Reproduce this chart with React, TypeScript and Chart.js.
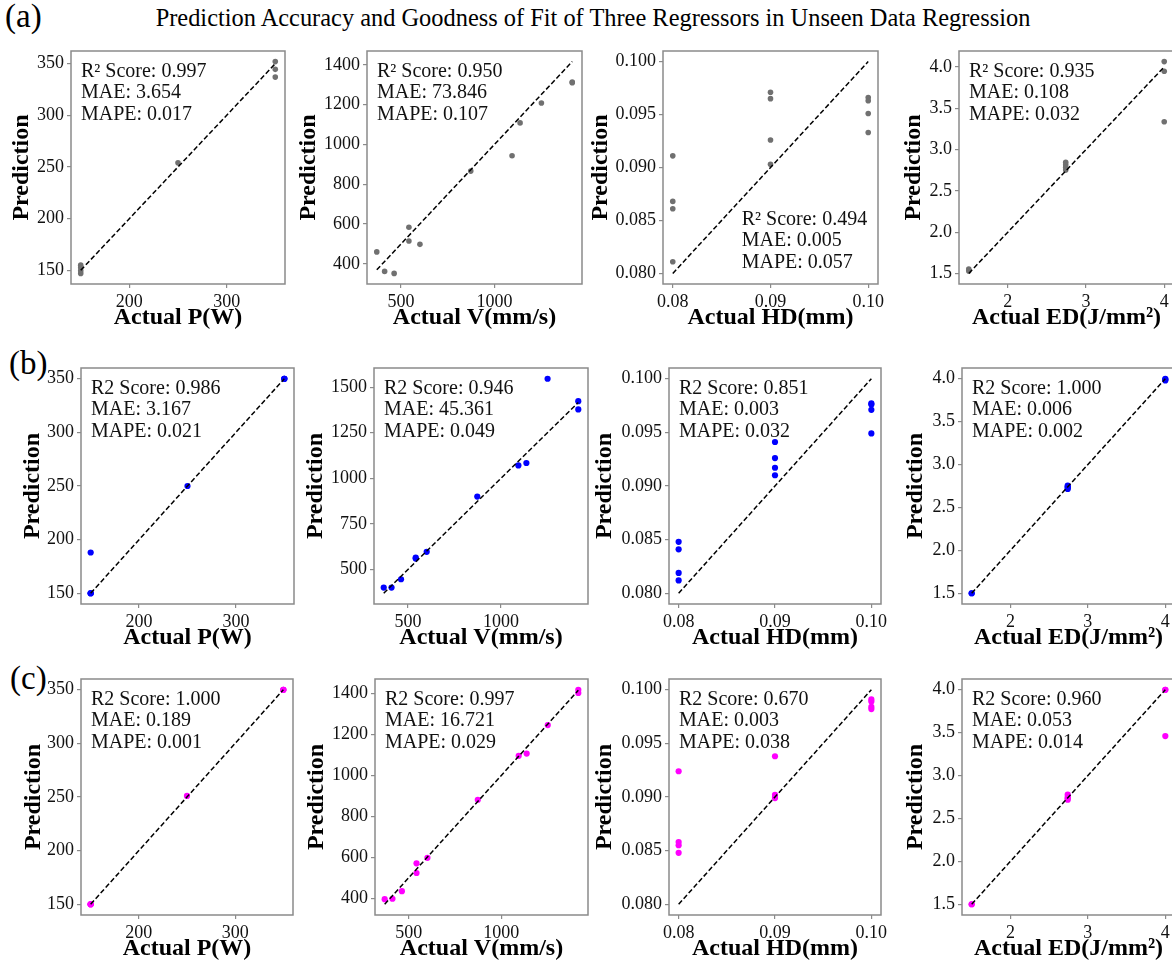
import React, { useEffect, useRef } from 'react';
import { Chart, registerables } from 'chart.js';
Chart.register(...registerables);

const FONT = "'Liberation Serif', 'Times New Roman', Times, serif";

// ---------- data ----------
const P_actual = [150, 150, 150, 150, 250, 350, 350, 350];
const P_predA = [155, 152.5, 149.5, 147, 254, 352, 344.5, 337];
const P_predB = [150, 188, 150, 150, 250, 350, 350, 350];
const P_predC = [150, 150, 150, 150, 251, 350, 350, 350];

const V_actual = [370, 412, 463, 542, 542, 601, 873, 1094, 1137, 1251, 1416, 1416];
const V_predA = [460, 362, 352, 584, 515, 498, 866, 943, 1108, 1208, 1313, 1310];
const V_predB = [401, 401, 447, 560, 565, 597, 900, 1071, 1084, 1546, 1423, 1378];
const V_predC = [395, 397, 434, 523, 570, 597, 881, 1096, 1107, 1246, 1419, 1403];

const HD_actual = [0.08, 0.08, 0.08, 0.08, 0.09, 0.09, 0.09, 0.09, 0.1, 0.1, 0.1, 0.1];
const HD_predA = [0.0911, 0.0868, 0.0861, 0.0811, 0.0971, 0.0965, 0.0926, 0.0903, 0.0966, 0.0963, 0.0951, 0.0933];
const HD_predB = [0.0848, 0.0841, 0.0819, 0.0812, 0.0941, 0.0926, 0.0917, 0.091, 0.0977, 0.0976, 0.0971, 0.0949];
const HD_predC = [0.0924, 0.0858, 0.0855, 0.0848, 0.0938, 0.0902, 0.09, 0.0899, 0.0991, 0.0989, 0.0984, 0.0982];

const ED_actual = [1.5, 1.5, 2.74, 2.74, 2.74, 2.74, 4, 4, 4];
const ED_predA = [1.552, 1.53, 2.845, 2.816, 2.784, 2.752, 4.064, 3.947, 3.336];
const ED_predB = [1.5, 1.5, 2.754, 2.74, 2.73, 2.715, 4.0, 3.98, 3.99];
const ED_predC = [1.5, 1.5, 2.777, 2.75, 2.735, 2.719, 4.0, 4.0, 3.46];

const P_xTicks = [200, 300];
const P_yTicks = [150, 200, 250, 300, 350];
const V_xTicks = [500, 1000];
const V_yTicksAC = [400, 600, 800, 1000, 1200, 1400];
const V_yTicksB = [500, 750, 1000, 1250, 1500];
const HD_xTicks = [0.08, 0.09, 0.1];
const HD_yTicks = [0.08, 0.085, 0.09, 0.095, 0.1];
const ED_xTicks = [2, 3, 4];
const ED_yTicks = [1.5, 2.0, 2.5, 3.0, 3.5, 4.0];

const xLabels = ['Actual P(W)', 'Actual V(mm/s)', 'Actual HD(mm)', 'Actual ED(J/mm²)'];

const annotA = [
  ['R² Score: 0.997', 'MAE: 3.654', 'MAPE: 0.017'],
  ['R² Score: 0.950', 'MAE: 73.846', 'MAPE: 0.107'],
  ['R² Score: 0.494', 'MAE: 0.005', 'MAPE: 0.057'],
  ['R² Score: 0.935', 'MAE: 0.108', 'MAPE: 0.032'],
];
const annotB = [
  ['R2 Score: 0.986', 'MAE: 3.167', 'MAPE: 0.021'],
  ['R2 Score: 0.946', 'MAE: 45.361', 'MAPE: 0.049'],
  ['R2 Score: 0.851', 'MAE: 0.003', 'MAPE: 0.032'],
  ['R2 Score: 1.000', 'MAE: 0.006', 'MAPE: 0.002'],
];
const annotC = [
  ['R2 Score: 1.000', 'MAE: 0.189', 'MAPE: 0.001'],
  ['R2 Score: 0.997', 'MAE: 16.721', 'MAPE: 0.029'],
  ['R2 Score: 0.670', 'MAE: 0.003', 'MAPE: 0.038'],
  ['R2 Score: 0.960', 'MAE: 0.053', 'MAPE: 0.014'],
];

// ---------- layout ----------
const ROW_TB = [[51, 284], [368, 604], [679, 915]];
const COL_LR = [
  [[71, 285], [367, 582], [663, 878], [959, 1174]],
  [[81, 294], [374, 588], [669, 881], [962, 1175]],
  [[81, 293], [375, 588], [669, 881], [962, 1175]],
];
const Y_TITLE_DIST = [
  [50, 59, 63, 46],
  [49, 58.6, 64.7, 46.6],
  [47.7, 58.3, 64.7, 46.6],
];
const PAD_T = 20;
const PAD_R = 26;
const H_X = 48;
const TITLE_HALF = 14.4;

type PanelSpec = {
  key: string;
  actual: number[];
  pred: number[];
  color: string;
  radius: number;
  xTicks: number[];
  yTicks: number[];
  xDec: number;
  yDec: number;
  xLabel: string;
  annot: string[];
  annotPos: [number, number] | null;
  L: number; T: number; R: number; B: number;
  yTitleDist: number;
};

const rowsPred = [
  [P_predA, V_predA, HD_predA, ED_predA],
  [P_predB, V_predB, HD_predB, ED_predB],
  [P_predC, V_predC, HD_predC, ED_predC],
];
const rowColors = ['#707070', '#0000ff', '#ff00ff'];
const rowAnnots = [annotA, annotB, annotC];
const colActual = [P_actual, V_actual, HD_actual, ED_actual];
const colXTicks = [P_xTicks, V_xTicks, HD_xTicks, ED_xTicks];
const colXDec = [0, 0, 2, 0];
const colYDec = [0, 0, 3, 1];

const panels: PanelSpec[] = [];
for (let r = 0; r < 3; r++) {
  for (let c = 0; c < 4; c++) {
    const yTicks = c === 0 ? P_yTicks : c === 1 ? (r === 1 ? V_yTicksB : V_yTicksAC) : c === 2 ? HD_yTicks : ED_yTicks;
    panels.push({
      key: `${r}-${c}`,
      actual: colActual[c],
      pred: rowsPred[r][c],
      color: rowColors[r],
      radius: r === 0 ? 2.8 : 3.1,
      xTicks: colXTicks[c],
      yTicks,
      xDec: colXDec[c],
      yDec: colYDec[c],
      xLabel: xLabels[c],
      annot: rowAnnots[r][c],
      annotPos: r === 0 && c === 2 ? [78.7, 174] : null,
      L: COL_LR[r][c][0], R: COL_LR[r][c][1],
      T: ROW_TB[r][0], B: ROW_TB[r][1],
      yTitleDist: Y_TITLE_DIST[r][c],
    });
  }
}

function padRange(vals: number[]): [number, number] {
  const lo = Math.min(...vals);
  const hi = Math.max(...vals);
  const m = (hi - lo) * 0.05;
  return [lo - m, hi + m];
}

function PanelChart({ p }: { p: PanelSpec }) {
  const ref = useRef<HTMLCanvasElement>(null);
  const W = Math.round(p.yTitleDist + TITLE_HALF);
  const left = p.L - W;
  const top = p.T - PAD_T;
  const width = W + (p.R - p.L) + PAD_R;
  const height = PAD_T + (p.B - p.T) + H_X;

  useEffect(() => {
    if (!ref.current) return;
    const lo = Math.min(...p.actual);
    const hi = Math.max(...p.actual);
    const [xmin, xmax] = padRange(p.actual);
    const [ymin, ymax] = padRange([...p.pred, lo, hi]);
    const pts = p.actual.map((x, i) => ({ x, y: p.pred[i] }));
    const tickFont = { family: FONT, size: 18 };
    const titleFont = { family: FONT, size: 24, weight: 'bold' as const, lineHeight: 1.2 };
    const gridOpts = {
      display: true,
      drawOnChartArea: false,
      drawTicks: true,
      tickLength: 4,
      color: '#8a8a8a',
      lineWidth: 1.2,
    };

    const framePlugin = {
      id: 'frame',
      beforeDatasetsDraw(chart: any) {
        const { ctx, chartArea } = chart;
        ctx.save();
        ctx.strokeStyle = '#8a8a8a';
        ctx.lineWidth = 1.5;
        ctx.strokeRect(chartArea.left, chartArea.top, chartArea.right - chartArea.left, chartArea.bottom - chartArea.top);
        ctx.restore();
      },
    };
    const annotPlugin = {
      id: 'annot',
      afterDatasetsDraw(chart: any) {
        const { ctx, chartArea } = chart;
        const [dx, dy] = p.annotPos ?? [10, 26];
        ctx.save();
        ctx.font = `20px ${FONT}`;
        ctx.fillStyle = '#111';
        ctx.textAlign = 'left';
        ctx.textBaseline = 'alphabetic';
        p.annot.forEach((t, i) => ctx.fillText(t, chartArea.left + dx, chartArea.top + dy + i * 21.3));
        ctx.restore();
      },
    };

    const chart = new Chart(ref.current, {
      type: 'scatter',
      data: {
        datasets: [
          {
            data: [{ x: lo, y: lo }, { x: hi, y: hi }],
            showLine: true,
            borderColor: '#000',
            borderWidth: 1.5,
            borderDash: [5, 2.5],
            pointRadius: 0,
            fill: false,
          } as any,
          {
            data: pts,
            backgroundColor: p.color,
            borderWidth: 0,
            pointRadius: p.radius,
          },
        ],
      },
      options: {
        animation: false,
        responsive: false,
        maintainAspectRatio: false,
        devicePixelRatio: 1,
        events: [],
        layout: { padding: { top: PAD_T, right: PAD_R, left: 0, bottom: 0 } },
        plugins: { legend: { display: false }, tooltip: { enabled: false }, title: { display: false } },
        scales: {
          x: {
            type: 'linear',
            position: 'bottom',
            min: xmin,
            max: xmax,
            afterBuildTicks: (s: any) => { s.ticks = p.xTicks.map((v) => ({ value: v })); },
            afterFit: (s: any) => { s.height = H_X; },
            ticks: {
              font: tickFont,
              color: '#111',
              padding: 3,
              autoSkip: false,
              maxRotation: 0,
              callback: (v: any) => Number(v).toFixed(p.xDec),
            },
            grid: gridOpts,
            border: { display: false },
            title: { display: true, text: p.xLabel, font: titleFont, color: '#000', padding: 0 },
          },
          y: {
            type: 'linear',
            position: 'left',
            min: ymin,
            max: ymax,
            afterBuildTicks: (s: any) => { s.ticks = p.yTicks.map((v) => ({ value: v })); },
            afterFit: (s: any) => { s.width = W; },
            ticks: {
              font: tickFont,
              color: '#111',
              padding: 3,
              autoSkip: false,
              callback: (v: any) => Number(v).toFixed(p.yDec),
            },
            grid: gridOpts,
            border: { display: false },
            title: { display: true, text: 'Prediction', font: titleFont, color: '#000', padding: 0 },
          },
        },
      } as any,
      plugins: [framePlugin, annotPlugin],
    });
    return () => chart.destroy();
  }, []);

  return (
    <canvas
      ref={ref}
      width={width}
      height={height}
      style={{ position: 'absolute', left, top, width, height, display: 'block' }}
    />
  );
}

const letterStyle = (left: number, top: number): React.CSSProperties => ({
  position: 'absolute',
  left,
  top,
  fontFamily: FONT,
  fontSize: 33,
  lineHeight: '33px',
  color: '#000',
  whiteSpace: 'nowrap',
});

export default function App() {
  return (
    <div
      style={{
        position: 'absolute',
        left: 0,
        top: 0,
        width: 1172,
        height: 962,
        overflow: 'hidden',
        background: '#fff',
      }}
    >
      <div
        style={{
          position: 'absolute',
          left: 593,
          top: 6,
          transform: 'translateX(-50%)',
          fontFamily: FONT,
          fontSize: 24.4,
          lineHeight: '24px',
          color: '#000',
          whiteSpace: 'nowrap',
        }}
      >
        Prediction Accuracy and Goodness of Fit of Three Regressors in Unseen Data Regression
      </div>
      <div style={letterStyle(5, 0)}>(a)</div>
      <div style={letterStyle(9, 347)}>(b)</div>
      <div style={letterStyle(10, 662)}>(c)</div>
      {panels.map((p) => (
        <PanelChart key={p.key} p={p} />
      ))}
    </div>
  );
}
